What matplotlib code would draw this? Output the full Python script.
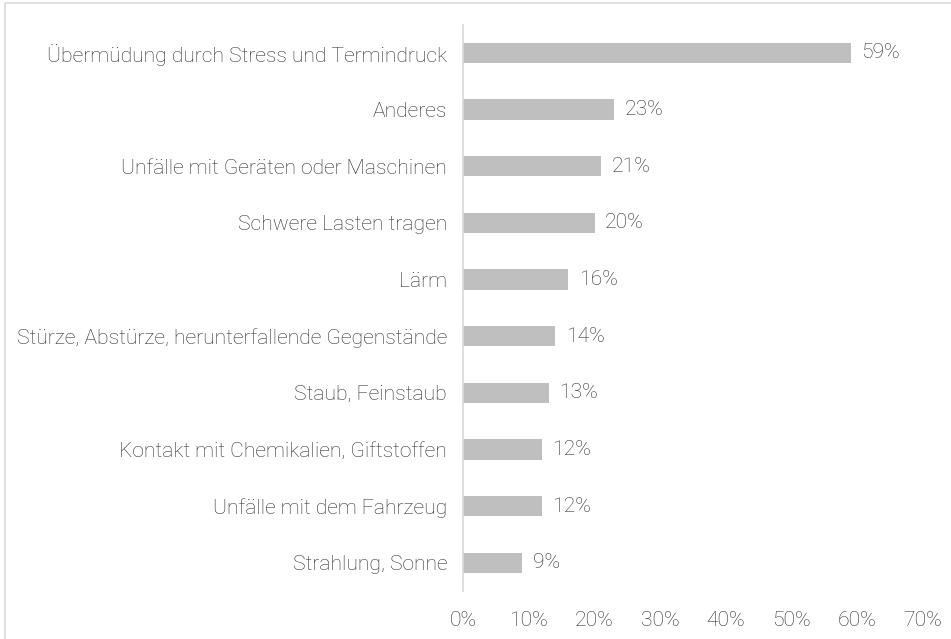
import matplotlib.pyplot as plt
from matplotlib.patches import Rectangle

categories = [
    "Übermüdung durch Stress und Termindruck",
    "Anderes",
    "Unfälle mit Geräten oder Maschinen",
    "Schwere Lasten tragen",
    "Lärm",
    "Stürze, Abstürze, herunterfallende Gegenstände",
    "Staub, Feinstaub",
    "Kontakt mit Chemikalien, Giftstoffen",
    "Unfälle mit dem Fahrzeug",
    "Strahlung, Sonne",
]
values = [59, 23, 21, 20, 16, 14, 13, 12, 12, 9]
xticks = [0, 10, 20, 30, 40, 50, 60, 70]

plt.rcParams['font.family'] = ['Roboto', 'DejaVu Sans']
plt.rcParams['font.weight'] = 'light'

text_col = '#303030'
fs = 15.2
fig = plt.figure(figsize=(9.51, 6.39), dpi=100)
ax = fig.add_axes([0.487, 0.075, 0.4835, 0.8865])

y = list(range(len(categories)))
ax.barh(y, values, height=0.36, color='#bfbfbf')
for yi, v in zip(y, values):
    ax.text(v + 1.6, yi, f"{v}%", va='center', ha='left', fontsize=fs,
            color=text_col, fontweight='light')

ax.set_ylim(len(categories) - 0.5, -0.5)
ax.set_xlim(0, 70)
ax.set_yticks(y)
ax.set_yticklabels(categories, fontsize=fs, color=text_col, fontweight='light')
ax.set_xticks(xticks)
ax.set_xticklabels([f"{t}%" for t in xticks], fontsize=fs, color=text_col,
                   fontweight='light')
ax.tick_params(axis='both', length=0)
ax.tick_params(axis='y', pad=11.5)
ax.tick_params(axis='x', pad=14)

for s in ['top', 'right', 'bottom']:
    ax.spines[s].set_visible(False)
ax.spines['left'].set_color('#d9d9d9')
ax.spines['left'].set_linewidth(1.2)

# outer frame of the chart area
fig.patches.append(Rectangle((5 / 951, -0.1), 1.0, 636 / 639 + 0.1,
                             transform=fig.transFigure, fill=False,
                             edgecolor='#d9d9d9', linewidth=1.2))

fig.savefig('out.png', dpi=100)
